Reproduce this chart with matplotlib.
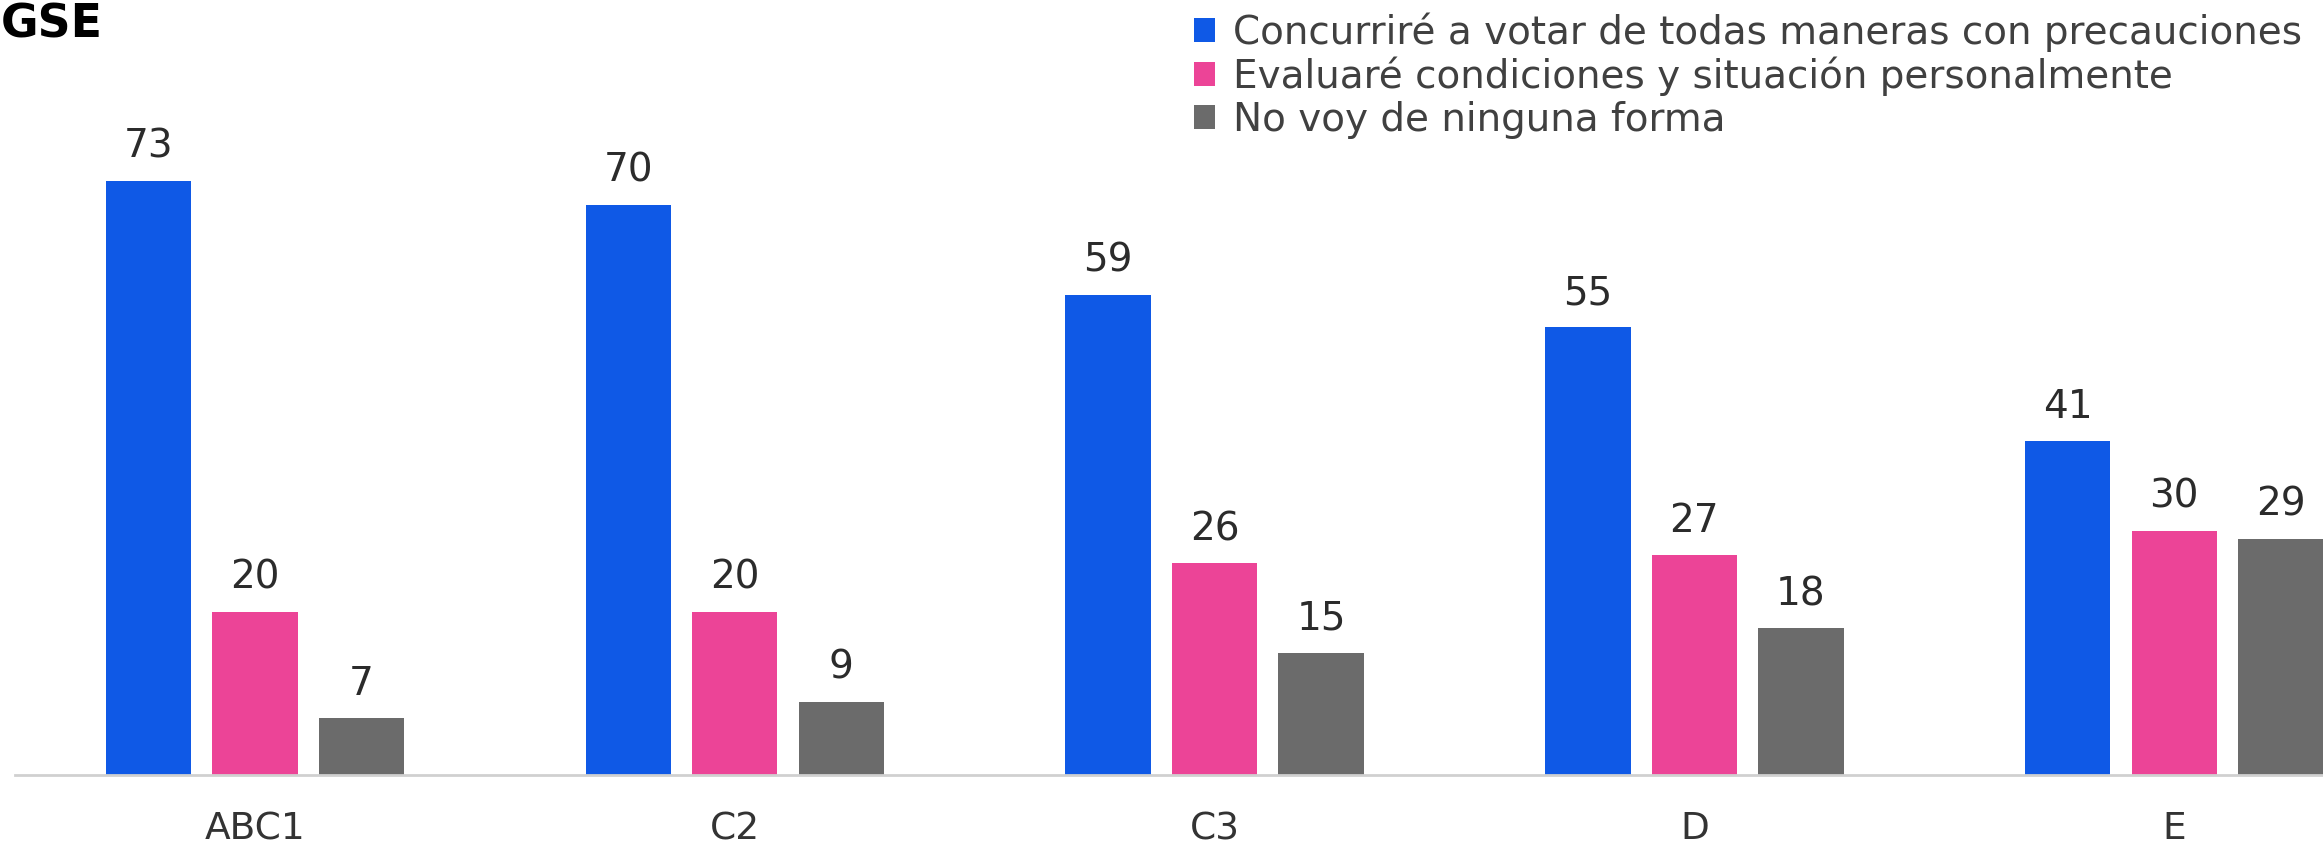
import matplotlib
matplotlib.use("Agg")
import matplotlib.pyplot as plt
import numpy as np

categories = ["ABC1", "C2", "C3", "D", "E"]
series_names = [
    "Concurriré a votar de todas maneras con precauciones",
    "Evaluaré condiciones y situación personalmente",
    "No voy de ninguna forma",
]
concurrire = [73, 70, 59, 55, 41]
evaluare = [20, 20, 26, 27, 30]
no_voy = [7, 9, 15, 18, 29]
colors = ["#0F59E6", "#EC4497", "#6B6B6B"]
title = "GSE"

plt.rcParams['font.family'] = ['DejaVu Sans']

W, H = 2323, 847
fig = plt.figure(figsize=(W / 100, H / 100), dpi=100)
ax = fig.add_axes([15 / W, (H - 775) / H, 1 - 15 / W, 775 / H])

x = np.arange(len(categories))
offs = [-0.222, 0.0, 0.222]
width = 0.178
handles = []
for vals, off, c, name in zip([concurrire, evaluare, no_voy], offs, colors, series_names):
    b = ax.bar(x + off, vals, width=width, color=c, label=name, zorder=2)
    handles.append(b)
    for xi, v in zip(x, vals):
        ax.annotate(f"{v}", (xi + off, v), xytext=(0, 11), textcoords="offset points",
                    ha="center", va="bottom", fontsize=28, color="#2b2b2b")

ax.set_xlim(-0.5, 4.31)
ax.set_ylim(0, 775 / 8.14)
for s in ["top", "right", "left"]:
    ax.spines[s].set_visible(False)
ax.spines["bottom"].set_color("#d0d0d0")
ax.spines["bottom"].set_linewidth(2)
ax.set_yticks([])
ax.set_xticks(x)
ax.set_xticklabels(categories, fontsize=27, color="#333333")
ax.tick_params(axis="x", length=0, pad=26)

leg = fig.legend(handles=handles, labels=series_names, loc="upper right",
                 bbox_to_anchor=(1.0 + 6 / W, 1.0 + 15 / H), frameon=False, fontsize=28,
                 handlelength=0.55, handleheight=0.55, handletextpad=0.45,
                 labelspacing=0.12, borderpad=0.2)
for t in leg.get_texts():
    t.set_color("#404040")

fig.text(1 / W, 1.0 - 2 / H, title, fontsize=33, fontweight="heavy", ha="left", va="top", color="black")

fig.savefig("out.png", dpi=100)
